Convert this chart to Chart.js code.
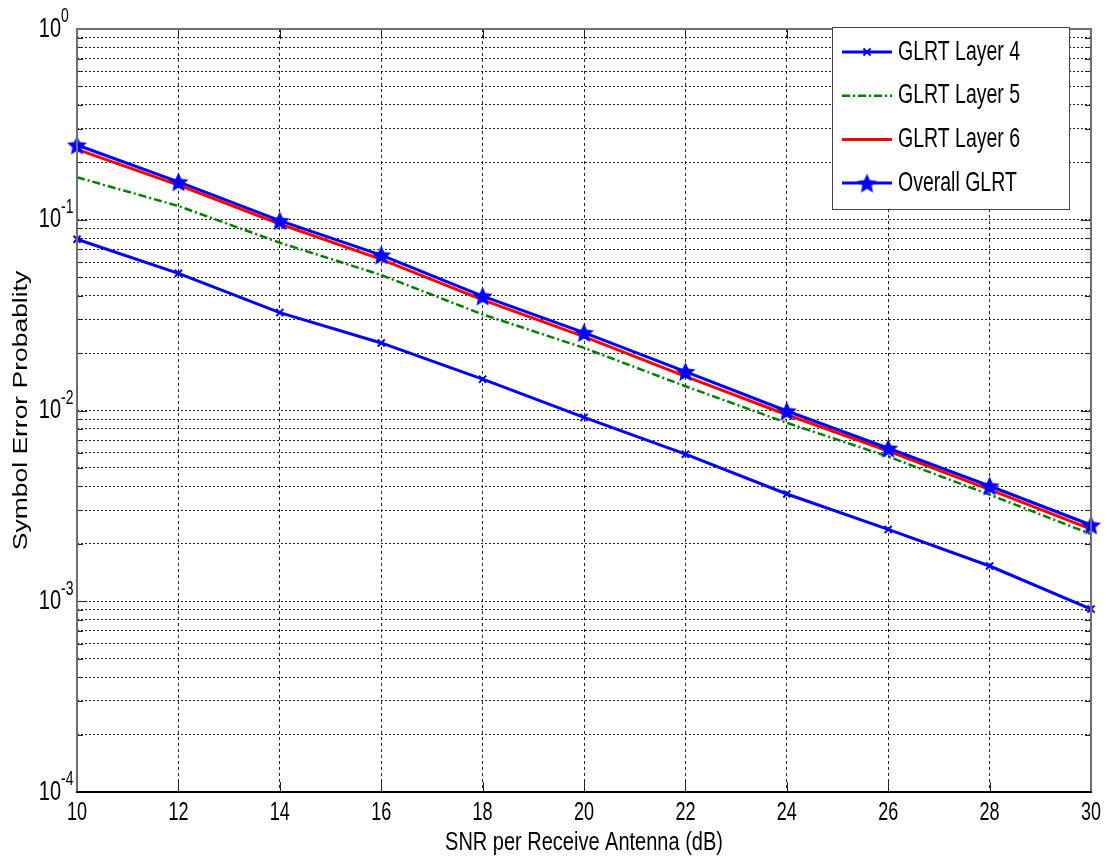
<!DOCTYPE html>
<html>
<head>
<meta charset="utf-8">
<title>Symbol error probability vs SNR</title>
<script src="https://cdn.jsdelivr.net/npm/chart.js@4.4.1/dist/chart.umd.min.js"></script>
<style>
  html, body { margin: 0; padding: 0; background: #fff; }
  #wrap { width: 1107px; height: 862px; }
</style>
</head>
<body>
<div id="wrap"><canvas id="serChart" width="1107" height="862"></canvas></div>
<script>
// SNR per receive antenna (dB)
const snrDb = [10, 12, 14, 16, 18, 20, 22, 24, 26, 28, 30];

// symbol error probability
const layer4 = [0.079, 0.0524, 0.0326, 0.0226, 0.0146, 0.0092, 0.0059, 0.00365, 0.00238, 0.00153, 0.00091];
const layer5 = [0.167, 0.118, 0.0758, 0.0513, 0.0319, 0.0213, 0.0134, 0.00862, 0.00573, 0.00362, 0.00225];
const layer6 = [0.234, 0.152, 0.095, 0.062, 0.038, 0.0244, 0.0151, 0.0095, 0.00613, 0.00385, 0.00239];
const overall = [0.2465, 0.158, 0.0989, 0.0653, 0.0398, 0.0256, 0.016, 0.00994, 0.00634, 0.00402, 0.00251];

const seriesNames = ['GLRT Layer 4', 'GLRT Layer 5', 'GLRT Layer 6', 'Overall GLRT'];

// y axis: decades, their exponent labels, minor grid multipliers
const yDecades = [1, 0.1, 0.01, 0.001, 0.0001];
const yExponents = ['0', '-1', '-2', '-3', '-4'];
const yMinorSteps = [1, 2, 3, 4, 5, 6, 7, 8, 9];

const xTitle = 'SNR per Receive Antenna (dB)';
const yTitle = 'Symbol Error Probablity';

const FONT = '"Liberation Sans", Arial, Helvetica, sans-serif';

function toPoints(values) {
  return snrDb.map((x, i) => ({ x: x, y: values[i] }));
}

// filled five point star, used as point image
function makeStar(outerR, innerR, color) {
  const c = document.createElement('canvas');
  const size = Math.ceil(outerR * 2 + 2);
  c.width = size;
  c.height = size;
  const g = c.getContext('2d');
  g.translate(size / 2, size / 2 + 1);
  g.beginPath();
  for (let i = 0; i < 10; i++) {
    const r = i % 2 ? innerR : outerR;
    const a = -Math.PI / 2 + i * Math.PI / 5;
    g.lineTo(r * Math.cos(a), r * Math.sin(a));
  }
  g.closePath();
  g.fillStyle = color;
  g.fill();
  return c;
}

// the figure's text is tall and narrow, so draw it stretched
function tallText(ctx, text, x, y, size, align, stretch, rotate) {
  ctx.save();
  ctx.translate(x, y);
  if (rotate) {
    ctx.rotate(-Math.PI / 2);
    ctx.scale(stretch, 1);
  } else {
    ctx.scale(1, stretch);
  }
  ctx.font = size + 'px ' + FONT;
  ctx.textAlign = align;
  ctx.textBaseline = 'middle';
  ctx.fillStyle = '#000';
  ctx.fillText(text, 0, 0);
  ctx.restore();
}

const starImg = makeStar(10.5, 4.8, '#0000ff');

// MATLAB style frame, inward ticks, labels and legend box
const matlabAxes = {
  id: 'matlabAxes',

  afterDatasetsDraw(chart) {
    const ctx = chart.ctx;
    const { left, right, top, bottom } = chart.chartArea;
    const xs = chart.scales.x;
    const ys = chart.scales.y;

    ctx.save();
    ctx.strokeStyle = '#222';
    ctx.lineWidth = 1;
    ctx.beginPath();
    ys.ticks.forEach(t => {
      const py = Math.round(ys.getPixelForValue(t.value)) + 0.5;
      const len = yDecades.includes(t.value) ? 10 : 6;
      ctx.moveTo(left, py); ctx.lineTo(left + len, py);
      ctx.moveTo(right, py); ctx.lineTo(right - len, py);
    });
    xs.ticks.forEach(t => {
      const px = Math.round(xs.getPixelForValue(t.value)) + 0.5;
      ctx.moveTo(px, bottom); ctx.lineTo(px, bottom - 10);
      ctx.moveTo(px, top); ctx.lineTo(px, top + 10);
    });
    ctx.stroke();

    // box
    ctx.strokeStyle = '#6e6e6e';
    ctx.lineWidth = 2;
    ctx.beginPath();
    ctx.moveTo(left, bottom); ctx.lineTo(left, top);
    ctx.lineTo(right, top); ctx.lineTo(right, bottom);
    ctx.stroke();
    ctx.strokeStyle = '#000';
    ctx.beginPath();
    ctx.moveTo(left - 1, bottom); ctx.lineTo(right + 1, bottom);
    ctx.stroke();
    ctx.restore();
  },

  afterDraw(chart) {
    const ctx = chart.ctx;
    const { left, right, top, bottom } = chart.chartArea;
    const xs = chart.scales.x;
    const ys = chart.scales.y;

    // 10^n labels
    yDecades.forEach((v, i) => {
      const py = ys.getPixelForValue(v);
      tallText(ctx, '10', 61, py, 20, 'right', 1.4);
      tallText(ctx, yExponents[i], 61, py - 12, 14, 'left', 1.4);
    });

    // x tick labels and axis titles
    xs.ticks.forEach(t => {
      tallText(ctx, String(t.value), xs.getPixelForValue(t.value), bottom + 21, 18, 'center', 1.45);
    });
    tallText(ctx, xTitle, (left + right) / 2, bottom + 51, 20, 'center', 1.33);
    tallText(ctx, yTitle, 21, (top + bottom) / 2, 21, 'center', 1.26, true);

    // legend box in the top right corner
    const box = { x: 832, y: 27, w: 237, h: 182 };
    ctx.save();
    ctx.fillStyle = '#fff';
    ctx.fillRect(box.x, box.y, box.w, box.h);
    ctx.strokeStyle = '#444';
    ctx.lineWidth = 1;
    ctx.strokeRect(box.x + 0.5, box.y + 0.5, box.w, box.h);
    ctx.restore();

    chart.data.datasets.forEach((ds, i) => {
      const cy = 52 + i * 43.7;
      ctx.save();
      ctx.strokeStyle = ds.borderColor;
      ctx.lineWidth = ds.borderWidth;
      ctx.setLineDash(ds.borderDash || []);
      ctx.beginPath();
      ctx.moveTo(842, cy);
      ctx.lineTo(892, cy);
      ctx.stroke();
      ctx.setLineDash([]);
      if (ds.pointRadius > 0) {
        ctx.fillStyle = ds.pointBackgroundColor;
        ctx.strokeStyle = ds.pointBorderColor;
        ctx.lineWidth = ds.pointBorderWidth;
        Chart.helpers.drawPoint(ctx, {
          pointStyle: ds.pointStyle,
          radius: ds.pointRadius,
          borderWidth: ds.pointBorderWidth,
          rotation: 0
        }, 867, cy);
      }
      ctx.restore();
      tallText(ctx, ds.label, 898, cy, 19.5, 'left', 1.42);
    });
  }
};

const ctx = document.getElementById('serChart');

new Chart(ctx, {
  type: 'line',
  data: {
    datasets: [
      {
        label: seriesNames[0],
        data: toPoints(layer4),
        borderColor: '#0000ff',
        borderWidth: 3,
        pointStyle: 'crossRot',
        pointRadius: 5,
        pointBorderWidth: 2,
        pointBorderColor: '#0000ff',
        pointBackgroundColor: '#0000ff',
        order: 3
      },
      {
        label: seriesNames[1],
        data: toPoints(layer5),
        borderColor: '#008000',
        borderWidth: 2.5,
        borderDash: [8, 3, 2, 3],
        pointRadius: 0,
        order: 2
      },
      {
        label: seriesNames[2],
        data: toPoints(layer6),
        borderColor: '#ff0000',
        borderWidth: 3,
        pointRadius: 0,
        order: 1
      },
      {
        label: seriesNames[3],
        data: toPoints(overall),
        borderColor: '#0000ff',
        borderWidth: 3,
        pointStyle: starImg,
        pointRadius: 10,
        pointBorderWidth: 1,
        pointBorderColor: '#0000ff',
        pointBackgroundColor: '#0000ff',
        order: 0
      }
    ]
  },
  options: {
    responsive: false,
    animation: false,
    clip: false,
    layout: { padding: { top: 29, right: 16, left: 0, bottom: 0 } },
    elements: { line: { tension: 0 } },
    plugins: {
      legend: { display: false },
      tooltip: { enabled: false }
    },
    scales: {
      x: {
        type: 'linear',
        min: 10,
        max: 30,
        ticks: { stepSize: 2, display: false },
        grid: { color: '#222', lineWidth: 1, drawTicks: false },
        border: { display: false, dash: [3, 3] },
        afterFit(scale) {
          scale.height = 70;
          scale.paddingLeft = 0;
          scale.paddingRight = 0;
        }
      },
      y: {
        type: 'logarithmic',
        min: 0.0001,
        max: 1,
        ticks: { display: false },
        afterBuildTicks(scale) {
          const vals = [];
          yDecades.forEach(d => {
            yMinorSteps.forEach(m => {
              const v = d * m;
              if (v <= 1 + 1e-9 && v >= 0.0001) vals.push(+v.toPrecision(3));
            });
          });
          scale.ticks = vals.map(v => ({ value: v }));
        },
        grid: { color: '#222', lineWidth: 1, drawTicks: false },
        border: { display: false, dash: [2, 2] },
        afterFit(scale) {
          scale.width = 77;
          scale.paddingTop = 0;
          scale.paddingBottom = 0;
        }
      }
    }
  },
  plugins: [matlabAxes]
});
</script>
</body>
</html>
